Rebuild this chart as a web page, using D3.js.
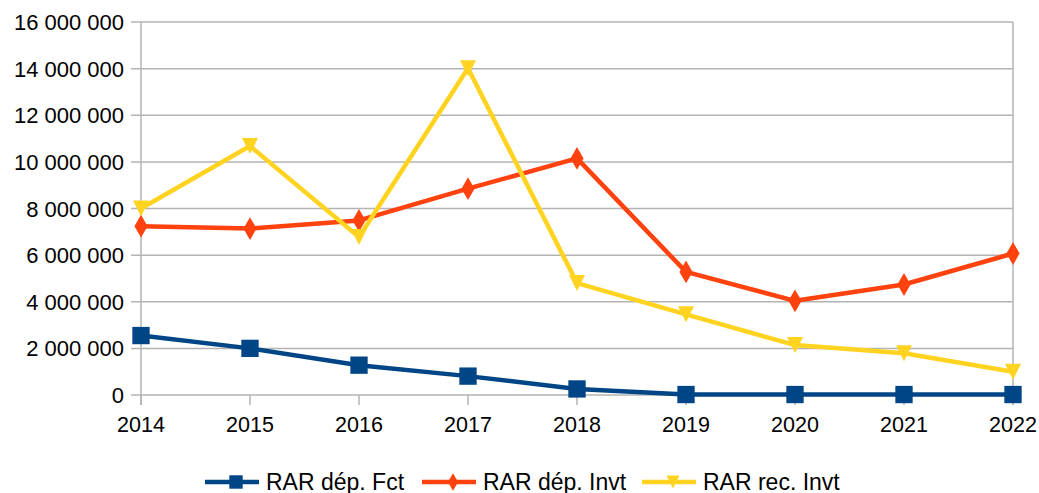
<!DOCTYPE html>
<html>
<head>
<meta charset="utf-8">
<script src="https://cdn.jsdelivr.net/npm/d3@7"></script>
<style>
  body { margin: 0; background: #fff; }
  text { font-family: "Liberation Sans", Arial, sans-serif; fill: #000; }
</style>
</head>
<body>
<div id="chart"></div>
<script>
// data
const years = ["2014","2015","2016","2017","2018","2019","2020","2021","2022"];
const depFct  = [2550000, 2000000, 1280000, 810000, 260000, 20000, 20000, 20000, 20000];
const depInvt = [7240000, 7140000, 7490000, 8850000, 10150000, 5280000, 4040000, 4740000, 6070000];
const recInvt = [8000000, 10680000, 6780000, 14020000, 4800000, 3460000, 2140000, 1790000, 1000000];
const yTicks = [0, 2000000, 4000000, 6000000, 8000000, 10000000, 12000000, 14000000, 16000000];

const series = [
  {name: "RAR dép. Fct", values: depFct, color: "#004586", symbol: d3.symbolSquare, size: 300},
  {name: "RAR dép. Invt", values: depInvt, color: "#ff420e", symbol: d3.symbolDiamond, size: 150},
  {name: "RAR rec. Invt", values: recInvt, color: "#ffd320", symbol: "tri", size: 16}
];

const width = 1039, height = 493;
const plotLeft = 141, plotRight = 1013, plotTop = 22, plotBottom = 395;

const svg = d3.select("#chart").append("svg")
    .attr("width", width)
    .attr("height", height)
    .style("display", "block");

const x = d3.scalePoint().domain(years).range([plotLeft, plotRight]);
const y = d3.scaleLinear().domain([0, 16000000]).range([plotBottom, plotTop]);

const fmt = v => d3.format(",")(v).replace(/,/g, " ");

// grid
svg.append("g").selectAll("line")
  .data(yTicks)
  .join("line")
    .attr("x1", plotLeft - 10).attr("x2", plotRight)
    .attr("y1", d => y(d)).attr("y2", d => y(d))
    .attr("stroke", "#b3b3b3").attr("stroke-width", 1.5);

// vertical axis lines
svg.append("line").attr("x1", plotLeft).attr("x2", plotLeft).attr("y1", plotTop).attr("y2", plotBottom + 10)
   .attr("stroke", "#b3b3b3").attr("stroke-width", 1.5);
svg.append("line").attr("x1", plotRight).attr("x2", plotRight).attr("y1", plotTop).attr("y2", plotBottom + 10)
   .attr("stroke", "#b3b3b3").attr("stroke-width", 1.5);

// x ticks
svg.append("g").selectAll("line")
  .data(years)
  .join("line")
    .attr("x1", d => x(d)).attr("x2", d => x(d))
    .attr("y1", plotBottom).attr("y2", plotBottom + 10)
    .attr("stroke", "#b3b3b3").attr("stroke-width", 1.5);

// y labels
svg.append("g").selectAll("text")
  .data(yTicks)
  .join("text")
    .attr("x", 124)
    .attr("y", d => y(d) + 8)
    .attr("text-anchor", "end")
    .style("font-size", "22px")
    .text(d => fmt(d));

// x labels
svg.append("g").selectAll("text")
  .data(years)
  .join("text")
    .attr("x", d => x(d))
    .attr("y", 432)
    .attr("text-anchor", "middle")
    .style("font-size", "21.5px")
    .text(d => d);

const lineFunction = d3.line().x((d, i) => x(years[i])).y(d => y(d));

function marker(sel, s, sz) {
  if (s.symbol === "tri") {
    const h = sz;
    sel.attr("d", `M${-sz/2},${-h/2}L${sz/2},${-h/2}L0,${h/2}Z`);
  } else {
    sel.attr("d", d3.symbol().type(s.symbol).size(sz)());
  }
}

series.forEach(s => {
  svg.append("path")
    .datum(s.values)
    .attr("d", lineFunction)
    .attr("fill", "none")
    .attr("stroke", s.color)
    .attr("stroke-width", 4.5)
    .attr("stroke-linejoin", "round");

  svg.append("g").selectAll("path")
    .data(s.values)
    .join("path")
      .attr("transform", (d, i) => `translate(${x(years[i])},${y(d)})`)
      .attr("fill", s.color)
      .call(marker, s, s.size);
});

// legend
const legendX = [205, 422, 642];
const legend = svg.append("g").selectAll("g")
  .data(series)
  .join("g")
    .attr("transform", (d, i) => `translate(${legendX[i]},482)`);

legend.append("line")
  .attr("x1", 0).attr("x2", 54)
  .attr("stroke", d => d.color)
  .attr("stroke-width", 4.5);
legend.append("path")
  .attr("transform", "translate(31,0)")
  .attr("fill", d => d.color)
  .each(function(d) {
    d3.select(this).call(marker, d, d.symbol === "tri" ? 13 : d.size * 0.6);
  });
legend.append("text")
  .attr("x", 61)
  .attr("y", 8)
  .style("font-size", "23px")
  .text(d => d.name);
</script>
</body>
</html>
